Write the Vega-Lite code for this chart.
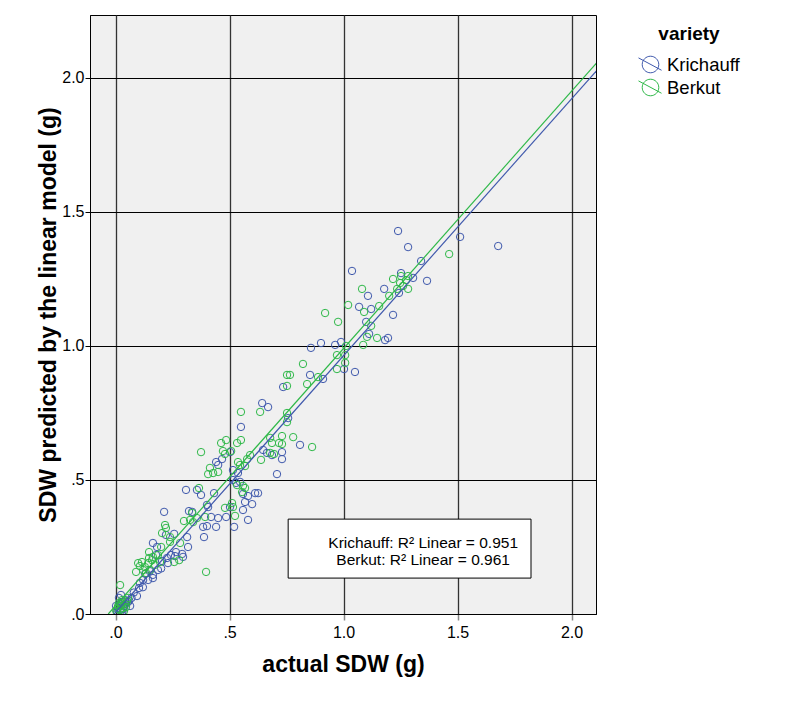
{
  "$schema": "https://vega.github.io/schema/vega-lite/v6.json",
  "width": 506,
  "height": 599,
  "autosize": "none",
  "padding": {"left": 90, "top": 15, "right": 201, "bottom": 93},
  "background": "white",
  "config": {
    "font": "Liberation Sans",
    "view": {"fill": "#F0F0F0", "stroke": "#000000", "strokeWidth": 1}
  },
  "datasets": {
    "pts": [
      {"variety": "Krichauff", "actual": 1.239, "predicted": 1.429},
      {"variety": "Krichauff", "actual": 1.283, "predicted": 1.369},
      {"variety": "Krichauff", "actual": 1.511, "predicted": 1.407},
      {"variety": "Krichauff", "actual": 1.678, "predicted": 1.373},
      {"variety": "Krichauff", "actual": 1.340, "predicted": 1.317},
      {"variety": "Krichauff", "actual": 1.366, "predicted": 1.243},
      {"variety": "Krichauff", "actual": 1.037, "predicted": 1.280},
      {"variety": "Krichauff", "actual": 1.252, "predicted": 1.272},
      {"variety": "Krichauff", "actual": 1.305, "predicted": 1.254},
      {"variety": "Krichauff", "actual": 1.178, "predicted": 1.213},
      {"variety": "Krichauff", "actual": 1.107, "predicted": 1.187},
      {"variety": "Krichauff", "actual": 1.243, "predicted": 1.198},
      {"variety": "Krichauff", "actual": 1.068, "predicted": 1.146},
      {"variety": "Krichauff", "actual": 1.121, "predicted": 1.138},
      {"variety": "Krichauff", "actual": 1.217, "predicted": 1.116},
      {"variety": "Krichauff", "actual": 1.099, "predicted": 1.090},
      {"variety": "Krichauff", "actual": 1.112, "predicted": 1.045},
      {"variety": "Krichauff", "actual": 1.182, "predicted": 1.022},
      {"variety": "Krichauff", "actual": 1.195, "predicted": 1.030},
      {"variety": "Krichauff", "actual": 0.963, "predicted": 1.004},
      {"variety": "Krichauff", "actual": 0.989, "predicted": 1.015},
      {"variety": "Krichauff", "actual": 0.901, "predicted": 1.011},
      {"variety": "Krichauff", "actual": 0.857, "predicted": 0.993},
      {"variety": "Krichauff", "actual": 1.002, "predicted": 0.914},
      {"variety": "Krichauff", "actual": 1.050, "predicted": 0.903},
      {"variety": "Krichauff", "actual": 0.853, "predicted": 0.892},
      {"variety": "Krichauff", "actual": 0.910, "predicted": 0.877},
      {"variety": "Krichauff", "actual": 0.735, "predicted": 0.847},
      {"variety": "Krichauff", "actual": 0.757, "predicted": 0.731},
      {"variety": "Krichauff", "actual": 0.809, "predicted": 0.631},
      {"variety": "Krichauff", "actual": 0.730, "predicted": 0.604},
      {"variety": "Krichauff", "actual": 0.730, "predicted": 0.578},
      {"variety": "Krichauff", "actual": 0.708, "predicted": 0.522},
      {"variety": "Krichauff", "actual": 0.643, "predicted": 0.787},
      {"variety": "Krichauff", "actual": 0.669, "predicted": 0.772},
      {"variety": "Krichauff", "actual": 0.550, "predicted": 0.698},
      {"variety": "Krichauff", "actual": 0.664, "predicted": 0.601},
      {"variety": "Krichauff", "actual": 0.502, "predicted": 0.604},
      {"variety": "Krichauff", "actual": 0.467, "predicted": 0.578},
      {"variety": "Krichauff", "actual": 0.441, "predicted": 0.567},
      {"variety": "Krichauff", "actual": 0.450, "predicted": 0.556},
      {"variety": "Krichauff", "actual": 0.515, "predicted": 0.537},
      {"variety": "Krichauff", "actual": 0.537, "predicted": 0.526},
      {"variety": "Krichauff", "actual": 0.515, "predicted": 0.500},
      {"variety": "Krichauff", "actual": 0.529, "predicted": 0.489},
      {"variety": "Krichauff", "actual": 0.546, "predicted": 0.493},
      {"variety": "Krichauff", "actual": 0.357, "predicted": 0.463},
      {"variety": "Krichauff", "actual": 0.375, "predicted": 0.444},
      {"variety": "Krichauff", "actual": 0.432, "predicted": 0.451},
      {"variety": "Krichauff", "actual": 0.309, "predicted": 0.463},
      {"variety": "Krichauff", "actual": 0.559, "predicted": 0.448},
      {"variety": "Krichauff", "actual": 0.581, "predicted": 0.440},
      {"variety": "Krichauff", "actual": 0.612, "predicted": 0.451},
      {"variety": "Krichauff", "actual": 0.625, "predicted": 0.451},
      {"variety": "Krichauff", "actual": 0.568, "predicted": 0.418},
      {"variety": "Krichauff", "actual": 0.599, "predicted": 0.410},
      {"variety": "Krichauff", "actual": 0.502, "predicted": 0.399},
      {"variety": "Krichauff", "actual": 0.559, "predicted": 0.388},
      {"variety": "Krichauff", "actual": 0.406, "predicted": 0.399},
      {"variety": "Krichauff", "actual": 0.419, "predicted": 0.362},
      {"variety": "Krichauff", "actual": 0.450, "predicted": 0.358},
      {"variety": "Krichauff", "actual": 0.485, "predicted": 0.362},
      {"variety": "Krichauff", "actual": 0.581, "predicted": 0.351},
      {"variety": "Krichauff", "actual": 0.384, "predicted": 0.325},
      {"variety": "Krichauff", "actual": 0.441, "predicted": 0.325},
      {"variety": "Krichauff", "actual": 0.520, "predicted": 0.325},
      {"variety": "Krichauff", "actual": 0.336, "predicted": 0.381},
      {"variety": "Krichauff", "actual": 0.213, "predicted": 0.381},
      {"variety": "Krichauff", "actual": 0.322, "predicted": 0.384},
      {"variety": "Krichauff", "actual": 0.401, "predicted": 0.407},
      {"variety": "Krichauff", "actual": 0.401, "predicted": 0.328},
      {"variety": "Krichauff", "actual": 0.388, "predicted": 0.287},
      {"variety": "Krichauff", "actual": 0.257, "predicted": 0.299},
      {"variety": "Krichauff", "actual": 0.221, "predicted": 0.295},
      {"variety": "Krichauff", "actual": 0.314, "predicted": 0.287},
      {"variety": "Krichauff", "actual": 0.318, "predicted": 0.250},
      {"variety": "Krichauff", "actual": 0.292, "predicted": 0.224},
      {"variety": "Krichauff", "actual": 0.261, "predicted": 0.216},
      {"variety": "Krichauff", "actual": 0.243, "predicted": 0.220},
      {"variety": "Krichauff", "actual": 0.226, "predicted": 0.209},
      {"variety": "Krichauff", "actual": 0.204, "predicted": 0.198},
      {"variety": "Krichauff", "actual": 0.164, "predicted": 0.265},
      {"variety": "Krichauff", "actual": 0.182, "predicted": 0.250},
      {"variety": "Krichauff", "actual": 0.178, "predicted": 0.220},
      {"variety": "Krichauff", "actual": 0.186, "predicted": 0.164},
      {"variety": "Krichauff", "actual": 0.164, "predicted": 0.134},
      {"variety": "Krichauff", "actual": 0.107, "predicted": 0.116},
      {"variety": "Krichauff", "actual": 0.103, "predicted": 0.097},
      {"variety": "Krichauff", "actual": 0.094, "predicted": 0.067},
      {"variety": "Krichauff", "actual": 0.121, "predicted": 0.127},
      {"variety": "Krichauff", "actual": 0.143, "predicted": 0.127},
      {"variety": "Krichauff", "actual": 0.164, "predicted": 0.146},
      {"variety": "Krichauff", "actual": 0.230, "predicted": 0.190},
      {"variety": "Krichauff", "actual": 0.296, "predicted": 0.213},
      {"variety": "Krichauff", "actual": 0.265, "predicted": 0.231},
      {"variety": "Krichauff", "actual": 0.647, "predicted": 0.612},
      {"variety": "Krichauff", "actual": 0.686, "predicted": 0.593},
      {"variety": "Krichauff", "actual": 0.130, "predicted": 0.150},
      {"variety": "Krichauff", "actual": 0.150, "predicted": 0.160},
      {"variety": "Krichauff", "actual": 0.200, "predicted": 0.170},
      {"variety": "Krichauff", "actual": 0.120, "predicted": 0.100},
      {"variety": "Krichauff", "actual": 0.080, "predicted": 0.080},
      {"variety": "Krichauff", "actual": 0.070, "predicted": 0.060},
      {"variety": "Krichauff", "actual": 0.060, "predicted": 0.050},
      {"variety": "Krichauff", "actual": 0.011, "predicted": 0.022},
      {"variety": "Krichauff", "actual": 0.020, "predicted": 0.037},
      {"variety": "Krichauff", "actual": 0.029, "predicted": 0.045},
      {"variety": "Krichauff", "actual": 0.037, "predicted": 0.030},
      {"variety": "Krichauff", "actual": 0.024, "predicted": 0.011},
      {"variety": "Krichauff", "actual": 0.007, "predicted": 0.007},
      {"variety": "Krichauff", "actual": 0.042, "predicted": 0.052},
      {"variety": "Krichauff", "actual": 0.015, "predicted": 0.060},
      {"variety": "Krichauff", "actual": 0.033, "predicted": 0.019},
      {"variety": "Krichauff", "actual": 0.046, "predicted": 0.037},
      {"variety": "Krichauff", "actual": 0.002, "predicted": 0.030},
      {"variety": "Krichauff", "actual": 0.055, "predicted": 0.045},
      {"variety": "Krichauff", "actual": 0.064, "predicted": 0.030},
      {"variety": "Krichauff", "actual": 0.024, "predicted": 0.071},
      {"variety": "Krichauff", "actual": 0.018, "predicted": 0.015},
      {"variety": "Krichauff", "actual": 0.030, "predicted": 0.008},
      {"variety": "Berkut", "actual": 1.463, "predicted": 1.343},
      {"variety": "Berkut", "actual": 1.217, "predicted": 1.250},
      {"variety": "Berkut", "actual": 1.252, "predicted": 1.261},
      {"variety": "Berkut", "actual": 1.283, "predicted": 1.261},
      {"variety": "Berkut", "actual": 1.274, "predicted": 1.246},
      {"variety": "Berkut", "actual": 1.248, "predicted": 1.235},
      {"variety": "Berkut", "actual": 1.261, "predicted": 1.224},
      {"variety": "Berkut", "actual": 1.283, "predicted": 1.213},
      {"variety": "Berkut", "actual": 1.235, "predicted": 1.213},
      {"variety": "Berkut", "actual": 1.200, "predicted": 1.187},
      {"variety": "Berkut", "actual": 1.081, "predicted": 1.213},
      {"variety": "Berkut", "actual": 1.156, "predicted": 1.149},
      {"variety": "Berkut", "actual": 1.020, "predicted": 1.153},
      {"variety": "Berkut", "actual": 1.090, "predicted": 1.127},
      {"variety": "Berkut", "actual": 0.919, "predicted": 1.123},
      {"variety": "Berkut", "actual": 0.976, "predicted": 1.090},
      {"variety": "Berkut", "actual": 1.121, "predicted": 1.075},
      {"variety": "Berkut", "actual": 1.103, "predicted": 1.034},
      {"variety": "Berkut", "actual": 1.147, "predicted": 1.030},
      {"variety": "Berkut", "actual": 1.086, "predicted": 1.004},
      {"variety": "Berkut", "actual": 1.011, "predicted": 1.000},
      {"variety": "Berkut", "actual": 0.971, "predicted": 0.966},
      {"variety": "Berkut", "actual": 1.007, "predicted": 0.966},
      {"variety": "Berkut", "actual": 1.007, "predicted": 0.937},
      {"variety": "Berkut", "actual": 0.971, "predicted": 0.914},
      {"variety": "Berkut", "actual": 0.822, "predicted": 0.933},
      {"variety": "Berkut", "actual": 0.752, "predicted": 0.892},
      {"variety": "Berkut", "actual": 0.765, "predicted": 0.892},
      {"variety": "Berkut", "actual": 0.840, "predicted": 0.858},
      {"variety": "Berkut", "actual": 0.888, "predicted": 0.884},
      {"variety": "Berkut", "actual": 0.752, "predicted": 0.851},
      {"variety": "Berkut", "actual": 0.752, "predicted": 0.750},
      {"variety": "Berkut", "actual": 0.752, "predicted": 0.716},
      {"variety": "Berkut", "actual": 0.779, "predicted": 0.660},
      {"variety": "Berkut", "actual": 0.862, "predicted": 0.623},
      {"variety": "Berkut", "actual": 0.730, "predicted": 0.664},
      {"variety": "Berkut", "actual": 0.730, "predicted": 0.634},
      {"variety": "Berkut", "actual": 0.550, "predicted": 0.754},
      {"variety": "Berkut", "actual": 0.634, "predicted": 0.754},
      {"variety": "Berkut", "actual": 0.463, "predicted": 0.638},
      {"variety": "Berkut", "actual": 0.485, "predicted": 0.649},
      {"variety": "Berkut", "actual": 0.533, "predicted": 0.638},
      {"variety": "Berkut", "actual": 0.550, "predicted": 0.649},
      {"variety": "Berkut", "actual": 0.375, "predicted": 0.604},
      {"variety": "Berkut", "actual": 0.471, "predicted": 0.608},
      {"variety": "Berkut", "actual": 0.480, "predicted": 0.597},
      {"variety": "Berkut", "actual": 0.507, "predicted": 0.608},
      {"variety": "Berkut", "actual": 0.717, "predicted": 0.638},
      {"variety": "Berkut", "actual": 0.686, "predicted": 0.638},
      {"variety": "Berkut", "actual": 0.678, "predicted": 0.601},
      {"variety": "Berkut", "actual": 0.695, "predicted": 0.597},
      {"variety": "Berkut", "actual": 0.638, "predicted": 0.575},
      {"variety": "Berkut", "actual": 0.590, "predicted": 0.593},
      {"variety": "Berkut", "actual": 0.577, "predicted": 0.578},
      {"variety": "Berkut", "actual": 0.537, "predicted": 0.567},
      {"variety": "Berkut", "actual": 0.546, "predicted": 0.556},
      {"variety": "Berkut", "actual": 0.568, "predicted": 0.552},
      {"variety": "Berkut", "actual": 0.414, "predicted": 0.545},
      {"variety": "Berkut", "actual": 0.406, "predicted": 0.522},
      {"variety": "Berkut", "actual": 0.428, "predicted": 0.526},
      {"variety": "Berkut", "actual": 0.450, "predicted": 0.530},
      {"variety": "Berkut", "actual": 0.533, "predicted": 0.481},
      {"variety": "Berkut", "actual": 0.559, "predicted": 0.478},
      {"variety": "Berkut", "actual": 0.555, "predicted": 0.455},
      {"variety": "Berkut", "actual": 0.568, "predicted": 0.470},
      {"variety": "Berkut", "actual": 0.366, "predicted": 0.470},
      {"variety": "Berkut", "actual": 0.511, "predicted": 0.414},
      {"variety": "Berkut", "actual": 0.515, "predicted": 0.399},
      {"variety": "Berkut", "actual": 0.480, "predicted": 0.396},
      {"variety": "Berkut", "actual": 0.524, "predicted": 0.366},
      {"variety": "Berkut", "actual": 0.393, "predicted": 0.362},
      {"variety": "Berkut", "actual": 0.340, "predicted": 0.343},
      {"variety": "Berkut", "actual": 0.357, "predicted": 0.358},
      {"variety": "Berkut", "actual": 0.336, "predicted": 0.377},
      {"variety": "Berkut", "actual": 0.217, "predicted": 0.332},
      {"variety": "Berkut", "actual": 0.221, "predicted": 0.321},
      {"variety": "Berkut", "actual": 0.204, "predicted": 0.302},
      {"variety": "Berkut", "actual": 0.239, "predicted": 0.269},
      {"variety": "Berkut", "actual": 0.283, "predicted": 0.265},
      {"variety": "Berkut", "actual": 0.300, "predicted": 0.347},
      {"variety": "Berkut", "actual": 0.327, "predicted": 0.351},
      {"variety": "Berkut", "actual": 0.279, "predicted": 0.201},
      {"variety": "Berkut", "actual": 0.257, "predicted": 0.194},
      {"variety": "Berkut", "actual": 0.397, "predicted": 0.157},
      {"variety": "Berkut", "actual": 0.147, "predicted": 0.231},
      {"variety": "Berkut", "actual": 0.099, "predicted": 0.190},
      {"variety": "Berkut", "actual": 0.239, "predicted": 0.287},
      {"variety": "Berkut", "actual": 0.200, "predicted": 0.250},
      {"variety": "Berkut", "actual": 0.020, "predicted": 0.108},
      {"variety": "Berkut", "actual": 0.116, "predicted": 0.194},
      {"variety": "Berkut", "actual": 0.129, "predicted": 0.175},
      {"variety": "Berkut", "actual": 0.143, "predicted": 0.190},
      {"variety": "Berkut", "actual": 0.160, "predicted": 0.201},
      {"variety": "Berkut", "actual": 0.173, "predicted": 0.183},
      {"variety": "Berkut", "actual": 0.151, "predicted": 0.164},
      {"variety": "Berkut", "actual": 0.134, "predicted": 0.153},
      {"variety": "Berkut", "actual": 0.121, "predicted": 0.164},
      {"variety": "Berkut", "actual": 0.164, "predicted": 0.213},
      {"variety": "Berkut", "actual": 0.186, "predicted": 0.220},
      {"variety": "Berkut", "actual": 0.107, "predicted": 0.179},
      {"variety": "Berkut", "actual": 0.090, "predicted": 0.157},
      {"variety": "Berkut", "actual": 0.195, "predicted": 0.194},
      {"variety": "Berkut", "actual": 0.147, "predicted": 0.209},
      {"variety": "Berkut", "actual": 0.678, "predicted": 0.657},
      {"variety": "Berkut", "actual": 0.011, "predicted": 0.030},
      {"variety": "Berkut", "actual": 0.024, "predicted": 0.041},
      {"variety": "Berkut", "actual": 0.033, "predicted": 0.022},
      {"variety": "Berkut", "actual": 0.020, "predicted": 0.015},
      {"variety": "Berkut", "actual": 0.042, "predicted": 0.037},
      {"variety": "Berkut", "actual": 0.007, "predicted": 0.019},
      {"variety": "Berkut", "actual": 0.029, "predicted": 0.052},
      {"variety": "Berkut", "actual": 0.046, "predicted": 0.026},
      {"variety": "Berkut", "actual": 0.015, "predicted": 0.041},
      {"variety": "Berkut", "actual": 0.037, "predicted": 0.011},
      {"variety": "Berkut", "actual": 0.050, "predicted": 0.048},
      {"variety": "Berkut", "actual": 0.024, "predicted": 0.030},
      {"variety": "Berkut", "actual": 0.055, "predicted": 0.060},
      {"variety": "Berkut", "actual": 0.003, "predicted": 0.011}
    ],
    "fit": [
      {"variety": "Krichauff", "actual": -0.006, "predicted": 0.0},
      {"variety": "Krichauff", "actual": 2.2, "predicted": 2.114},
      {"variety": "Berkut", "actual": -0.032, "predicted": 0.0},
      {"variety": "Berkut", "actual": 2.2, "predicted": 2.143}
    ],
    "box": [
      {"actual": 0.757, "actual2": 1.822, "predicted": 0.354, "predicted2": 0.134}
    ],
    "note": [
      {"label": "Krichauff: R² Linear = 0.951", "actual": 1.349, "predicted": 0.246},
      {"label": "Berkut: R² Linear = 0.961", "actual": 1.349, "predicted": 0.183}
    ]
  },
  "encoding": {
    "x": {
      "field": "actual",
      "type": "quantitative",
      "title": "actual SDW (g)",
      "scale": {"domain": [-0.112, 2.107], "nice": false, "zero": false},
      "axis": {
        "values": [0, 0.5, 1, 1.5, 2],
        "labelExpr": "datum.value < 1 ? substring(format(datum.value, '.1f'), 1) : format(datum.value, '.1f')",
        "grid": true,
        "gridColor": "#333333",
        "gridWidth": 1.3,
        "domainColor": "#000000",
        "tickColor": "#888888",
        "tickSize": 6,
        "tickWidth": 1.5,
        "labelFontSize": 16,
        "labelColor": "#000000",
        "labelPadding": 4,
        "titleFontSize": 23,
        "titleFontWeight": "bold",
        "titleColor": "#000000",
        "titlePadding": 13
      }
    },
    "y": {
      "field": "predicted",
      "type": "quantitative",
      "title": "SDW predicted by the linear model (g)",
      "scale": {"domain": [0, 2.235], "nice": false, "zero": false},
      "axis": {
        "values": [0, 0.5, 1, 1.5, 2],
        "labelExpr": "datum.value < 1 ? substring(format(datum.value, '.1f'), 1) : format(datum.value, '.1f')",
        "grid": true,
        "gridColor": "#000000",
        "gridWidth": 1,
        "domainColor": "#000000",
        "tickColor": "#000000",
        "tickSize": 5,
        "labelFontSize": 16,
        "labelColor": "#000000",
        "labelPadding": 1,
        "titleFontSize": 23,
        "titleFontWeight": "bold",
        "titleColor": "#000000",
        "titlePadding": 1
      }
    }
  },
  "layer": [
    {
      "data": {"name": "pts"},
      "mark": {"type": "point", "shape": "circle", "filled": false, "size": 55, "strokeWidth": 1, "opacity": 1, "clip": true},
      "encoding": {
        "color": {
          "field": "variety",
          "type": "nominal",
          "sort": null,
          "scale": {"domain": ["Krichauff", "Berkut"], "range": ["#3E58AC", "#2EB848"]},
          "legend": {
            "orient": "none",
            "legendX": 548,
            "legendY": 10,
            "title": "variety",
            "titleFontSize": 19,
            "titleFontWeight": "bold",
            "titleColor": "#000000",
            "titleAnchor": "middle",
            "titlePadding": 8,
            "labelFontSize": 18.5,
            "labelColor": "#000000",
            "labelOffset": 4,
            "symbolType": "M-0.69,0A0.69,0.69,0,1,1,0.69,0A0.69,0.69,0,1,1,-0.69,0M-1,-0.55L0.92,0.48",
            "symbolSize": 576,
            "symbolStrokeWidth": 1,
            "symbolFillColor": "transparent",
            "rowPadding": -1
          }
        }
      }
    },
    {
      "data": {"name": "fit"},
      "mark": {"type": "line", "strokeWidth": 1.2, "clip": true},
      "encoding": {
        "color": {"field": "variety", "type": "nominal", "sort": null}
      }
    },
    {
      "data": {"name": "box"},
      "mark": {"type": "rect", "fill": "#FFFFFF", "stroke": "#000000", "strokeWidth": 1},
      "encoding": {
        "x2": {"field": "actual2"},
        "y2": {"field": "predicted2"}
      }
    },
    {
      "data": {"name": "note"},
      "mark": {"type": "text", "fontSize": 15.5, "align": "center", "baseline": "alphabetic", "color": "#000000"},
      "encoding": {
        "text": {"field": "label"}
      }
    }
  ]
}
